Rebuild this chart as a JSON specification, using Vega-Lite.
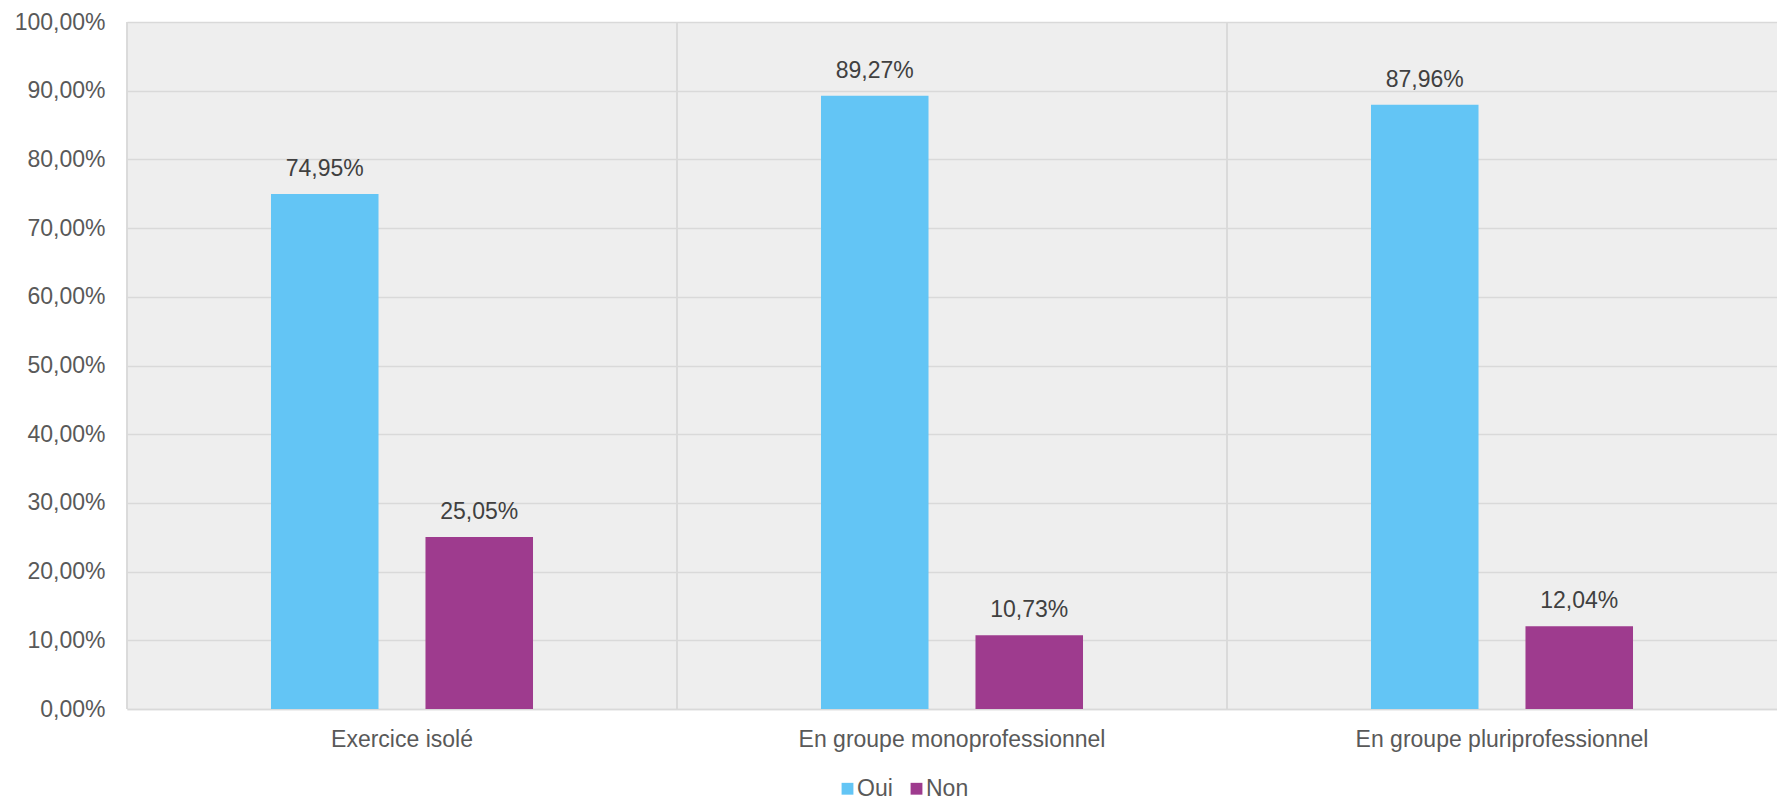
{
  "$schema": "https://vega.github.io/schema/vega-lite/v6.json",
  "width": 1650,
  "height": 687,
  "padding": {"left": 0, "top": 11, "right": 0, "bottom": 0},
  "autosize": {"type": "pad"},
  "config": {
    "font": "Liberation Sans",
    "locale": {"number": {"decimal": ",", "thousands": " ", "grouping": [3], "currency": ["", " €"]}},
    "view": {"fill": "#eeeeee", "stroke": null}
  },
  "data": {
    "values": [
      {"categorie": "Exercice isolé", "reponse": "Oui", "part": 0.7495},
      {"categorie": "Exercice isolé", "reponse": "Non", "part": 0.2505},
      {"categorie": "En groupe monoprofessionnel", "reponse": "Oui", "part": 0.8927},
      {"categorie": "En groupe monoprofessionnel", "reponse": "Non", "part": 0.1073},
      {"categorie": "En groupe pluriprofessionnel", "reponse": "Oui", "part": 0.8796},
      {"categorie": "En groupe pluriprofessionnel", "reponse": "Non", "part": 0.1204}
    ]
  },
  "encoding": {
    "x": {
      "field": "categorie",
      "type": "nominal",
      "sort": ["Exercice isolé", "En groupe monoprofessionnel", "En groupe pluriprofessionnel"],
      "scale": {"paddingInner": 0, "paddingOuter": 0},
      "axis": {
        "title": null,
        "labelAngle": 0,
        "labelFontSize": 23,
        "labelColor": "#595959",
        "labelPadding": 19,
        "labelLimit": 0,
        "ticks": false,
        "grid": false,
        "domainColor": "#d9d9d9",
        "domainWidth": 1.5
      }
    },
    "y": {
      "field": "part",
      "type": "quantitative",
      "scale": {"domain": [0, 1], "nice": false},
      "axis": {
        "title": null,
        "format": ".2%",
        "values": [0, 0.1, 0.2, 0.3, 0.4, 0.5, 0.6, 0.7, 0.8, 0.9, 1],
        "labelFontSize": 23,
        "labelColor": "#595959",
        "labelPadding": 22,
        "ticks": false,
        "domain": false,
        "gridColor": "#d9d9d9",
        "gridWidth": 1.5,
        "minExtent": 127,
        "maxExtent": 127
      }
    }
  },
  "layer": [
    {
      "mark": {"type": "rule", "color": "#d9d9d9", "strokeWidth": 1.5},
      "encoding": {
        "x": {"field": "categorie", "type": "nominal", "bandPosition": 0, "sort": ["Exercice isolé", "En groupe monoprofessionnel", "En groupe pluriprofessionnel"]},
        "y": null
      }
    },
    {
      "mark": {"type": "bar"},
      "encoding": {
        "xOffset": {
          "field": "reponse",
          "type": "nominal",
          "sort": ["Oui", "Non"],
          "scale": {"paddingInner": 0.304, "paddingOuter": 0.932}
        },
        "color": {
          "field": "reponse",
          "type": "nominal",
          "sort": ["Oui", "Non"],
          "scale": {"domain": ["Oui", "Non"], "range": ["#63c5f5", "#9e3b8e"]},
          "legend": {
            "title": null,
            "orient": "none",
            "direction": "horizontal",
            "legendX": 709,
            "legendY": 755,
            "symbolType": "square",
            "symbolSize": 140,
            "symbolStrokeWidth": 0,
            "labelFontSize": 23,
            "labelColor": "#595959",
            "labelOffset": -2,
            "columnPadding": 12
          }
        }
      }
    },
    {
      "mark": {"type": "text", "baseline": "bottom", "dy": -13, "fontSize": 23, "color": "#404040"},
      "encoding": {
        "xOffset": {"field": "reponse", "type": "nominal", "sort": ["Oui", "Non"]},
        "text": {"field": "part", "type": "quantitative", "format": ".2%"}
      }
    }
  ]
}
